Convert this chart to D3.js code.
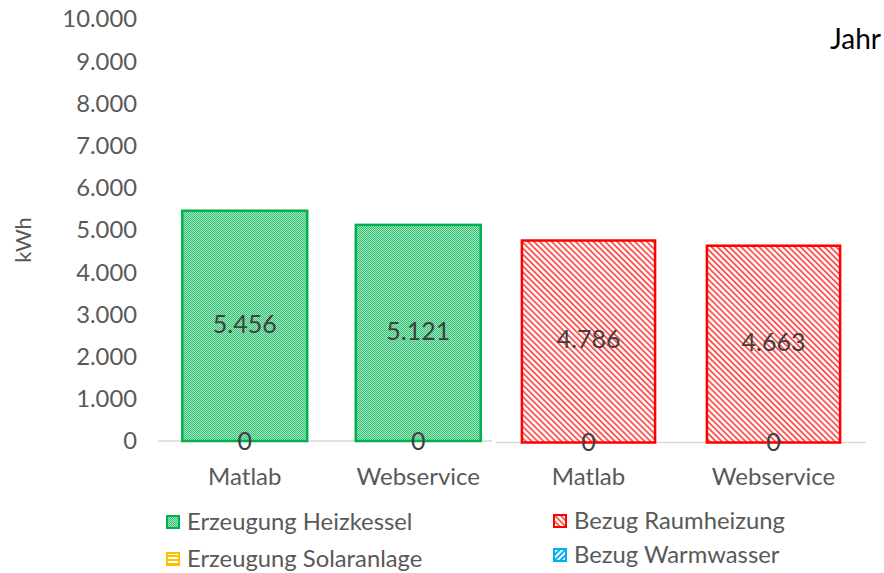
<!DOCTYPE html>
<html>
<head>
<meta charset="utf-8">
<script src="https://cdn.jsdelivr.net/npm/d3@7"></script>
<style>
  html, body { margin: 0; padding: 0; background: #fff; }
  svg { display: block; font-family: Lato, "Open Sans", sans-serif; }
</style>
</head>
<body>
<svg id="chart" width="884" height="573"></svg>
<script>
// Annual energy comparison: generation (left) vs. consumption (right), kWh
const categories = ["Matlab", "Webservice"];
const erzeugungHeizkessel = [5456, 5121];
const erzeugungSolaranlage = [0, 0];
const bezugRaumheizung = [4786, 4663];
const bezugWarmwasser = [0, 0];
const yTicks = [0, 1000, 2000, 3000, 4000, 5000, 6000, 7000, 8000, 9000, 10000];
const legendItems = [
  { name: "Erzeugung Heizkessel", fill: "url(#pGreen)", stroke: "#00B050" },
  { name: "Erzeugung Solaranlage", fill: "url(#pYellow)", stroke: "#FFC000" },
  { name: "Bezug Raumheizung", fill: "url(#pRed)", stroke: "#FF0000" },
  { name: "Bezug Warmwasser", fill: "url(#pBlue)", stroke: "#00B0F0" }
];

const de = d3.formatLocale({ decimal: ",", thousands: ".", grouping: [3], currency: ["", " €"] });
const fmt = de.format(",.0f");

const svg = d3.select("#chart");
const defs = svg.append("defs");

// Fill patterns
const pg = defs.append("pattern").attr("id", "pGreen").attr("patternUnits", "userSpaceOnUse")
  .attr("width", 2).attr("height", 2);
pg.append("rect").attr("width", 2).attr("height", 2).attr("fill", "#a3e6c0");
pg.append("rect").attr("width", 1).attr("height", 1).attr("fill", "#33c275");
pg.append("rect").attr("x", 1).attr("y", 1).attr("width", 1).attr("height", 1).attr("fill", "#33c275");

function linePattern(id, color, angle, gap, w) {
  const p = defs.append("pattern").attr("id", id).attr("patternUnits", "userSpaceOnUse")
    .attr("width", gap).attr("height", gap).attr("patternTransform", `rotate(${angle})`);
  p.append("rect").attr("width", gap).attr("height", gap).attr("fill", "#fff");
  p.append("rect").attr("width", w).attr("height", gap).attr("fill", color);
}
linePattern("pRed", "#FF5050", -45, 4.2, 1.8);
linePattern("pBlue", "#00B0F0", 45, 4, 2);
linePattern("pYellow", "#FFC000", 90, 4, 2);

// Scales: the two panels share the same value range
const yLeft = d3.scaleLinear().domain([0, 10000]).range([441, 19]);
const yRight = d3.scaleLinear().domain([0, 10000]).range([442.5, 20.5]);
const xLeft = d3.scaleBand().domain(categories).range([158, 505]).paddingInner(0.28).paddingOuter(0.14);
const xRight = d3.scaleBand().domain(categories).range([496, 866]).paddingInner(0.28).paddingOuter(0.14);

// Y axis tick labels
svg.append("g").selectAll("text").data(yTicks).join("text")
  .attr("x", 137).attr("y", d => yLeft(d)).attr("dy", "0.35em")
  .attr("text-anchor", "end").attr("fill", "#595959").attr("font-size", 23.8)
  .text(d => fmt(d));

svg.append("text")
  .attr("transform", `translate(31,${yLeft(5000) + 10}) rotate(-90)`)
  .attr("text-anchor", "middle").attr("fill", "#595959").attr("font-size", 22)
  .text("kWh");

svg.append("text").attr("x", 881).attr("y", 49).attr("text-anchor", "end")
  .attr("fill", "#000").attr("font-size", 28).text("Jahr");

// Baselines
svg.append("line").attr("x1", 158).attr("x2", 492).attr("y1", yLeft(0)).attr("y2", yLeft(0))
  .attr("stroke", "#d9d9d9").attr("stroke-width", 1.5);
svg.append("line").attr("x1", 496).attr("x2", 866).attr("y1", yRight(0)).attr("y2", yRight(0))
  .attr("stroke", "#d9d9d9").attr("stroke-width", 1.5);

function panel(x, y, lowVals, highVals, lowStyle, highStyle) {
  const rows = categories.map((c, i) => ({ c, low: lowVals[i], high: highVals[i] }));
  const g = svg.append("g");
  // lower stacked segment (zero-height here)
  g.selectAll("rect.low").data(rows).join("rect").attr("class", "low")
    .attr("x", d => x(d.c)).attr("width", x.bandwidth())
    .attr("y", d => y(d.low)).attr("height", d => y(0) - y(d.low))
    .attr("fill", lowStyle.fill).attr("stroke", lowStyle.stroke).attr("stroke-width", 2.5);
  g.selectAll("rect.high").data(rows).join("rect").attr("class", "high")
    .attr("x", d => x(d.c)).attr("width", x.bandwidth())
    .attr("y", d => y(d.low + d.high)).attr("height", d => y(d.low) - y(d.low + d.high))
    .attr("fill", highStyle.fill).attr("stroke", highStyle.stroke).attr("stroke-width", 2.5);
  g.selectAll("text.vh").data(rows).join("text").attr("class", "vh")
    .attr("x", d => x(d.c) + x.bandwidth() / 2)
    .attr("y", d => (y(d.low) + y(d.low + d.high)) / 2 - 2).attr("dy", "0.35em")
    .attr("text-anchor", "middle").attr("fill", "#404040").attr("font-size", 25)
    .text(d => fmt(d.high));
  g.selectAll("text.vl").data(rows).join("text").attr("class", "vl")
    .attr("x", d => x(d.c) + x.bandwidth() / 2)
    .attr("y", d => (y(0) + y(d.low)) / 2).attr("dy", "0.35em")
    .attr("text-anchor", "middle").attr("fill", "#404040").attr("font-size", 25)
    .text(d => fmt(d.low));
  g.selectAll("text.cat").data(rows).join("text").attr("class", "cat")
    .attr("x", d => x(d.c) + x.bandwidth() / 2).attr("y", 477).attr("dy", "0.35em")
    .attr("text-anchor", "middle").attr("fill", "#595959").attr("font-size", 24)
    .text(d => d.c);
}
panel(xLeft, yLeft, erzeugungSolaranlage, erzeugungHeizkessel, legendItems[1], legendItems[0]);
panel(xRight, yRight, bezugWarmwasser, bezugRaumheizung, legendItems[3], legendItems[2]);

// Legend
const legendPos = [[166, 522], [166, 559], [553, 521], [553, 555]];
const lg = svg.append("g").selectAll("g").data(legendItems).join("g")
  .attr("transform", (d, i) => `translate(${legendPos[i][0]},${legendPos[i][1]})`);
lg.append("rect").attr("x", 1).attr("y", -6).attr("width", 12).attr("height", 12)
  .attr("fill", d => d.fill).attr("stroke", d => d.stroke).attr("stroke-width", 2);
lg.append("text").attr("x", 21).attr("dy", "0.35em").attr("fill", "#595959")
  .attr("font-size", 23.8).text(d => d.name);
</script>
</body>
</html>
